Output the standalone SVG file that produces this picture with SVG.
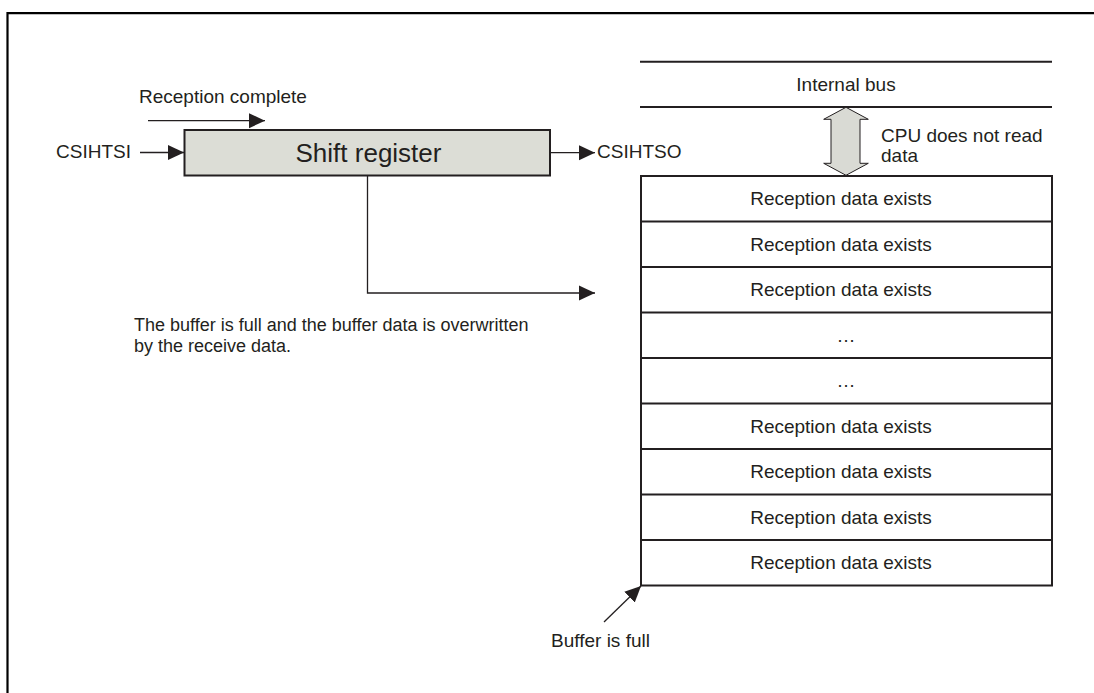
<svg xmlns="http://www.w3.org/2000/svg" width="1094" height="693" viewBox="0 0 1094 693">
<style>
text{font-family:"Liberation Sans",Arial,sans-serif;font-size:19px;fill:#231f20}
.c{text-anchor:middle}
.p{font-size:18px}
.ln{stroke:#231f20;stroke-width:1.3;fill:none}
.box{stroke:#231f20;stroke-width:2;fill:#fff}
</style>
<defs>
<marker id="ah" markerUnits="userSpaceOnUse" markerWidth="16" markerHeight="16" viewBox="0 0 16 16" refX="16" refY="8" orient="auto">
<path d="M0,0.5 L16,8 L0,15.5 Z" fill="#231f20"/>
</marker>
</defs>
<g id="frame">
<path d="M7.5,693 V13.2 H1094" fill="none" stroke="#000" stroke-width="2.2"/>
</g>
<g id="shift-register">
<rect x="184.5" y="130" width="365.5" height="45.5" fill="#dcddd6" stroke="#231f20" stroke-width="2"/>
<text x="368.5" y="162" class="c" style="font-size:26px">Shift register</text>
</g>
<g id="internal-bus">
<line x1="640" y1="61.7" x2="1052" y2="61.7" stroke="#231f20" stroke-width="2"/>
<line x1="640" y1="107" x2="1052" y2="107" stroke="#231f20" stroke-width="2"/>
<text x="846" y="91" class="c">Internal bus</text>
</g>
<g id="buffer">
<rect class="box" x="641" y="176" width="411" height="409.5"/>
<g stroke="#231f20" stroke-width="2">
<line x1="641" y1="221.5" x2="1052" y2="221.5"/>
<line x1="641" y1="267" x2="1052" y2="267"/>
<line x1="641" y1="312.5" x2="1052" y2="312.5"/>
<line x1="641" y1="358" x2="1052" y2="358"/>
<line x1="641" y1="403.5" x2="1052" y2="403.5"/>
<line x1="641" y1="449" x2="1052" y2="449"/>
<line x1="641" y1="494.5" x2="1052" y2="494.5"/>
<line x1="641" y1="540" x2="1052" y2="540"/>
</g>
<text x="841" y="205" class="c">Reception data exists</text>
<text x="841" y="251" class="c">Reception data exists</text>
<text x="841" y="296" class="c">Reception data exists</text>
<text x="846" y="342" class="c">…</text>
<text x="846" y="387" class="c">…</text>
<text x="841" y="433" class="c">Reception data exists</text>
<text x="841" y="478" class="c">Reception data exists</text>
<text x="841" y="524" class="c">Reception data exists</text>
<text x="841" y="569" class="c">Reception data exists</text>
</g>
<g id="cpu-access">
<path d="M846,107.3 L868.3,119.3 L860,119.3 L860,163.3 L868.3,163.3 L846,175.3 L823.7,163.3 L831,163.3 L831,119.3 L823.7,119.3 Z" fill="#d9dad4" stroke="#231f20" stroke-width="1"/>
<text x="881" y="142">CPU does not read</text>
<text x="881" y="162">data</text>
</g>
<g id="labels">
<text x="139" y="103">Reception complete</text>
<text x="56" y="158">CSIHTSI</text>
<text x="597" y="158">CSIHTSO</text>
<text class="p" x="134" y="331">The buffer is full and the buffer data is overwritten</text>
<text class="p" x="134" y="352">by the receive data.</text>
<text x="551" y="647">Buffer is full</text>
</g>
<g id="connectors">
<line class="ln" x1="148" y1="120.7" x2="265" y2="120.7" marker-end="url(#ah)"/>
<line class="ln" x1="140" y1="152.5" x2="184" y2="152.5" marker-end="url(#ah)"/>
<line class="ln" x1="550" y1="152.7" x2="595" y2="152.7" marker-end="url(#ah)"/>
<path class="ln" d="M367.5,176 V293 H595" marker-end="url(#ah)"/>
<line class="ln" x1="604" y1="622" x2="641" y2="586" marker-end="url(#ah)"/>
</g>
</svg>
